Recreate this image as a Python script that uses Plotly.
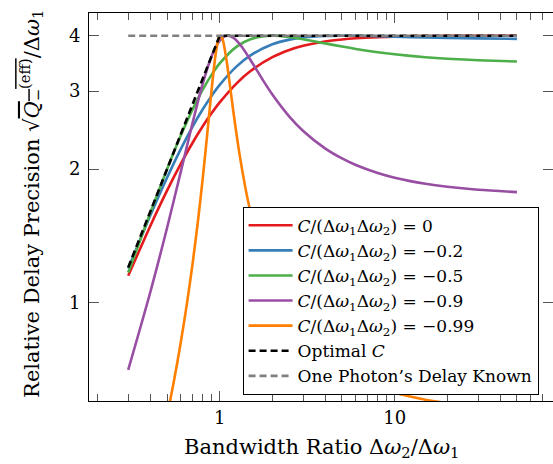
import plotly.graph_objects as go

# ---------------- data ----------------
x_main = [0.3, 0.4, 0.5, 0.6, 0.7, 0.8, 0.9, 1.0, 1.25, 1.5, 2, 2.5, 3, 4, 5, 6, 8, 10, 15, 20, 30, 50]
y_c0 = [1.1494, 1.4856, 1.7889, 2.0580, 2.2939, 2.4988, 2.6759, 2.8284, 3.1235, 3.3282, 3.5777, 3.7139,
        3.7947, 3.8806, 3.9223, 3.9456, 3.9691, 3.9801, 3.9911, 3.9950, 3.9978, 3.9992]
y_c02 = [1.1938, 1.5677, 1.9124, 2.2220, 2.4940, 2.7290, 2.9292, 3.0984, 3.4112, 3.6113, 3.8247, 3.9192,
         3.9635, 3.9948, 4.0000, 3.9977, 3.9883, 3.9793, 3.9635, 3.9539, 3.9434, 3.9342]
y_c05 = [1.1692, 1.5894, 2.0000, 2.3842, 2.7282, 3.0237, 3.2682, 3.4641, 3.7797, 3.9279, 4.0000, 3.9736,
         3.9279, 3.8431, 3.7796, 3.7330, 3.6706, 3.6314, 3.5772, 3.5494, 3.5213, 3.4986]

x_c09 = [0.3, 0.4, 0.5, 0.6, 0.7, 0.8, 0.9, 0.95, 1.0, 1.05, 1.11, 1.2, 1.25, 1.35, 1.5, 1.75, 2, 2.5, 3,
         4, 5, 6, 8, 10, 15, 20, 30, 50]
y_c09 = [0.7053, 1.0514, 1.4736, 1.9770, 2.5449, 3.1190, 3.6000, 3.7752, 3.8987, 3.9714, 4.0000, 3.9540,
         3.8987, 3.7571, 3.5265, 3.1942, 2.9472, 2.6285, 2.4388, 2.2278, 2.1144, 2.0438, 1.9609, 1.9138,
         1.8540, 1.8252, 1.7973, 1.7754]

x_c099 = [0.5, 0.55, 0.6, 0.65, 0.7, 0.75, 0.8, 0.85, 0.9, 0.95, 0.98, 1.0, 1.01, 1.03, 1.05, 1.1, 1.15,
          1.2, 1.3, 1.4, 1.5, 1.75, 2, 2.5, 3, 4, 5, 6, 8, 10, 15, 20, 30, 50]
y_c099 = [0.5533, 0.6717, 0.8163, 0.9964, 1.2248, 1.5202, 1.9076, 2.4132, 3.0350, 3.6558, 3.9102, 3.9900,
          4.0000, 3.9637, 3.8650, 3.4698, 3.0421, 2.6766, 2.1538, 1.8219, 1.5995, 1.2775, 1.1066, 0.9302,
          0.8401, 0.7490, 0.7031, 0.6755, 0.6438, 0.6262, 0.6041, 0.5936, 0.5835, 0.5758]

x_opt = [0.3, 1.0, 50]
y_opt = [1.2, 4.0, 4.0]
x_one = [0.3, 50]
y_one = [4.0, 4.0]

names = ["<i>C</i>/(Δ<i>ω</i><sub>1</sub>Δ<i>ω</i><sub>2</sub>) = 0",
         "<i>C</i>/(Δ<i>ω</i><sub>1</sub>Δ<i>ω</i><sub>2</sub>) = −0.2",
         "<i>C</i>/(Δ<i>ω</i><sub>1</sub>Δ<i>ω</i><sub>2</sub>) = −0.5",
         "<i>C</i>/(Δ<i>ω</i><sub>1</sub>Δ<i>ω</i><sub>2</sub>) = −0.9",
         "<i>C</i>/(Δ<i>ω</i><sub>1</sub>Δ<i>ω</i><sub>2</sub>) = −0.99",
         "Optimal <i>C</i>",
         "One Photon’s Delay Known"]
colors = ["#e41a1c", "#377eb8", "#4daf4a", "#984ea3", "#ff7f00", "#000000", "#808080"]

x_tickvals = [1, 10]
x_ticktext = ["1", "10"]
x_minor = [0.2, 0.3, 0.4, 0.5, 0.6, 0.7, 0.8, 0.9, 2, 3, 4, 5, 6, 7, 8, 9, 20, 30, 40, 50, 60, 70, 80]
y_tickvals = [1, 2, 3, 4]
y_ticktext = ["1", "2", "3", "4"]

FONT = "DejaVu Serif"

fig = go.Figure()
series = [(x_main, y_c0), (x_main, y_c02), (x_main, y_c05), (x_c09, y_c09), (x_c099, y_c099)]
for (xs, ys), nm, col in zip(series, names[:5], colors[:5]):
    fig.add_trace(go.Scatter(x=xs, y=ys, mode="lines", name=nm,
                             line=dict(color=col, width=2.6, shape="spline", smoothing=0.8)))
fig.add_trace(go.Scatter(x=x_opt, y=y_opt, mode="lines", name=names[5],
                         line=dict(color=colors[5], width=2.6, dash="7px,4px")))
fig.add_trace(go.Scatter(x=x_one, y=y_one, mode="lines", name=names[6],
                         line=dict(color=colors[6], width=2.6, dash="7px,4px")))

axis_common = dict(showline=True, linecolor="black", linewidth=1, mirror="ticks",
                   ticks="inside", ticklen=10, tickcolor="#555", tickwidth=1,
                   showgrid=False, zeroline=False,
                   tickfont=dict(family=FONT, size=18, color="black"))

fig.update_xaxes(type="log", range=[-0.747, 1.905], tickmode="array",
                 tickvals=x_tickvals, ticktext=x_ticktext,
                 minor=dict(tickmode="array", tickvals=x_minor, ticks="inside", ticklen=7,
                            tickcolor="#555", tickwidth=1, showgrid=False),
                 **axis_common)
fig.update_yaxes(type="log", range=[-0.2218, 0.6532], tickmode="array",
                 tickvals=y_tickvals, ticktext=y_ticktext, ticklabelstandoff=4,
                 **axis_common)

fig.update_layout(
    width=553, height=464,
    margin=dict(l=89, r=0, t=13, b=63),
    plot_bgcolor="white", paper_bgcolor="white",
    font=dict(family=FONT, size=18, color="black"),
    legend=dict(x=0.331, y=0.5008, xanchor="left", yanchor="top",
                bordercolor="black", borderwidth=1, bgcolor="white", itemwidth=44,
                font=dict(family=FONT, size=17, color="black")),
    annotations=[
        dict(text="Bandwidth Ratio Δ<i>ω</i><sub>2</sub>/Δ<i>ω</i><sub>1</sub>",
             xref="paper", yref="paper", x=0.5, y=-0.122, xanchor="center", yanchor="middle",
             showarrow=False, font=dict(family=FONT, size=21, color="black")),
        dict(text="Relative Delay Precision √<span style='text-decoration:overline'><i>Q</i><sub>−</sub><sup>(eff)</sup></span>/Δ<i>ω</i><sub>1</sub>",
             xref="paper", yref="paper", x=-0.125, y=0.508, xanchor="center", yanchor="middle",
             textangle=-90, showarrow=False, font=dict(family=FONT, size=21, color="black")),
    ],
)

fig.write_html("out.html", config={"displayModeBar": False},
               post_script="document.body.style.margin='0';document.body.style.overflow='hidden';")
